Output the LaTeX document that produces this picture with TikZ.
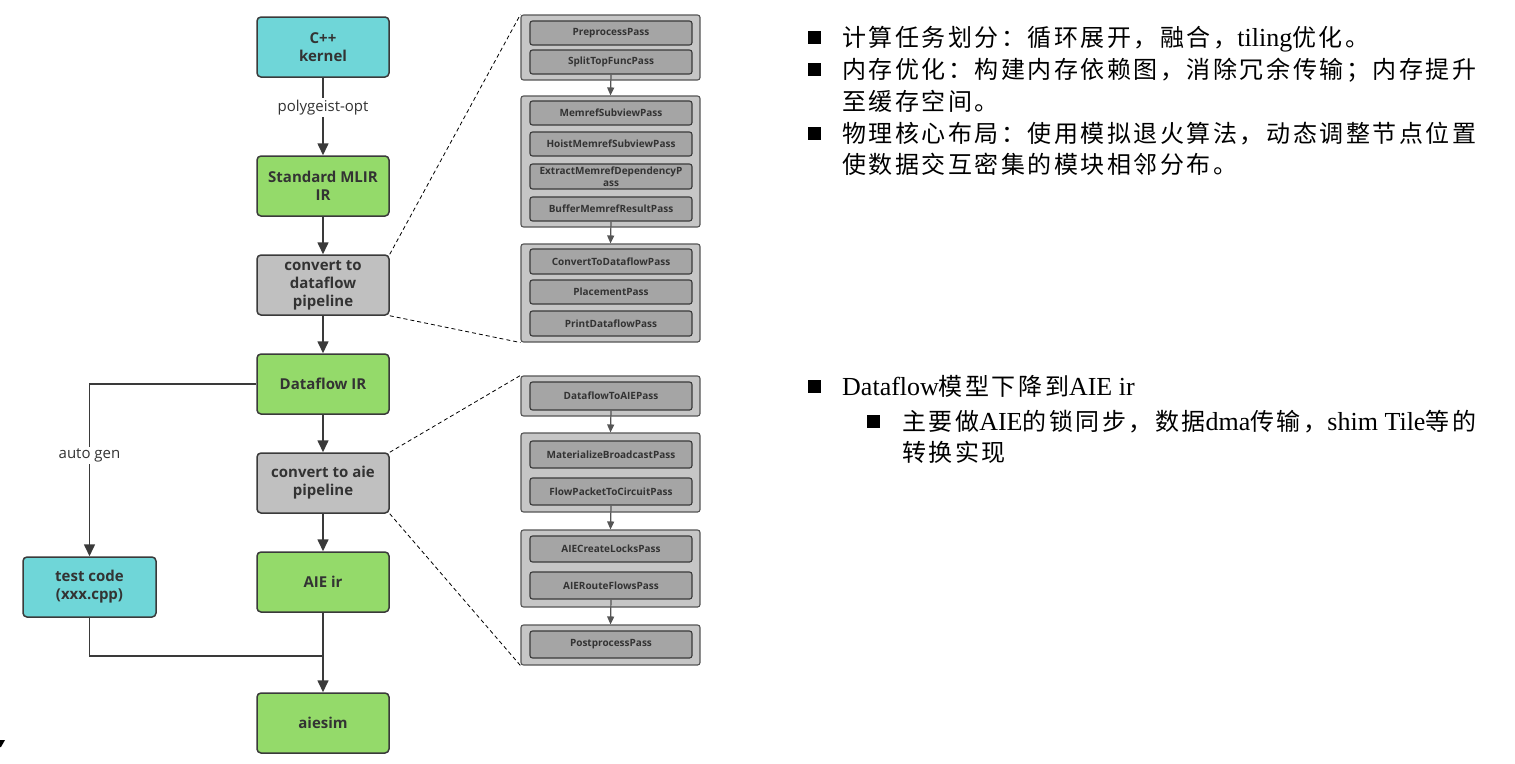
\documentclass[tikz,border=0pt]{standalone}
\usepackage{fontspec}
\setmainfont{Liberation Serif}
\newfontfamily\uisans{Open Sans}
\newfontfamily\cjk[LetterSpace=10.5]{Noto Sans CJK SC}
\usetikzlibrary{arrows.meta}

\definecolor{kcyan}{HTML}{6FD6D8}
\definecolor{kgreen}{HTML}{94DA6A}
\definecolor{kgray}{HTML}{C0C0C0}
\definecolor{kline}{HTML}{3A3A3A}
\definecolor{ktext}{HTML}{333333}
\definecolor{grpfill}{HTML}{C6C6C6}
\definecolor{grpline}{HTML}{555555}
\definecolor{passfill}{HTML}{A5A5A5}

\newcommand{\zh}[1]{{\fontsize{24}{28}\selectfont\cjk #1}}

\begin{document}
\begin{tikzpicture}[x=1pt,y=-1pt,
  flowbox/.style={draw=kline, line width=1.5pt, rounded corners=4pt,
    minimum width=132pt, minimum height=60pt, inner sep=0pt, align=center,
    text=ktext, font=\uisans\bfseries\fontsize{15}{18}\selectfont},
  cyanbox/.style={flowbox, fill=kcyan},
  greenbox/.style={flowbox, fill=kgreen},
  graybox/.style={flowbox, fill=kgray},
  flowarrow/.style={draw=kline, line width=1.6pt, -{Triangle[length=12pt,width=11pt]}},
  flowline/.style={draw=kline, line width=1.6pt},
  edgelabel/.style={fill=white, inner sep=2pt, text=ktext,
    font=\uisans\fontsize{15}{18}\selectfont},
  passgroup/.style={draw=grpline, line width=1.1pt, fill=grpfill, rounded corners=2.5pt,
    minimum width=179pt, minimum height=#1, inner sep=0pt},
  passbox/.style={draw=kline, line width=1.1pt, fill=passfill, rounded corners=2.5pt,
    minimum width=162pt, minimum height=#1, inner sep=0pt, align=center,
    text=ktext, font=\uisans\bfseries\fontsize{10}{10.5}\selectfont},
  passarrow/.style={draw=grpline, line width=1.2pt, -{Triangle[length=8pt,width=7pt]}},
  zoomline/.style={draw=black, line width=0.8pt, dash pattern=on 4pt off 3pt},
  bulletsq/.style={fill=black, minimum size=13pt, inner sep=0pt},
  bodytext/.style={anchor=base west, inner sep=0pt, font=\fontsize{26}{30}\selectfont},
]
\useasboundingbox (0,0) rectangle (1515,763);

% main flow
\node[cyanbox]  (cpp)    at (323,47)  {C++\\kernel};
\node[greenbox] (mlir)   at (323,186) {Standard MLIR\\IR};
\node[graybox]  (cdf)    at (323,285) {convert to\\dataflow\\pipeline};
\node[greenbox] (dfir)   at (323,384) {Dataflow IR};
\node[graybox]  (caie)   at (323,483) {convert to aie\\pipeline};
\node[greenbox] (aieir)  at (323,582) {AIE ir};
\node[greenbox] (aiesim) at (323,723) {aiesim};
\node[cyanbox, minimum width=133pt] (test) at (89.5,587) {test code\\(xxx.cpp)};

\draw[flowarrow] (cpp) -- node[edgelabel, pos=0.38] {polygeist-opt} (mlir);
\draw[flowarrow] (mlir) -- (cdf);
\draw[flowarrow] (cdf) -- (dfir);
\draw[flowarrow] (dfir) -- (caie);
\draw[flowarrow] (caie) -- (aieir);
\draw[flowarrow] (aieir) -- (aiesim);
\draw[flowarrow] (dfir.west) -| node[edgelabel, pos=0.708] {auto gen} (test.north);
\coordinate (join) at (323,656);
\draw[flowline] (test.south) |- (join);

% dataflow pass pipeline
\node[passgroup=65pt]  (g1) at (610.5,47.5)  {};
\node[passgroup=131pt] (g2) at (610.5,161.5) {};
\node[passgroup=98pt]  (g3) at (610.5,293)   {};
\node[passbox=24pt] (p1)  at (611,33)    {PreprocessPass};
\node[passbox=24pt] (p2)  at (611,62)    {SplitTopFuncPass};
\node[passbox=24pt] (p3)  at (611,113)   {MemrefSubviewPass};
\node[passbox=24pt] (p4)  at (611,144)   {HoistMemrefSubviewPass};
\node[passbox=25pt] (p5)  at (611,176.5) {ExtractMemrefDependencyP\\[1.5pt]ass};
\node[passbox=24pt] (p6)  at (611,209)   {BufferMemrefResultPass};
\node[passbox=25pt] (p7)  at (611,261.5) {ConvertToDataflowPass};
\node[passbox=24pt] (p8)  at (611,292)   {PlacementPass};
\node[passbox=25pt] (p9)  at (611,323.5) {PrintDataflowPass};
\draw[passarrow] (p2.south) -- (g2.north);
\draw[passarrow] (p6.south) -- (g3.north);

% aie pass pipeline
\node[passgroup=40pt] (g4) at (610.5,396)   {};
\node[passgroup=79pt] (g5) at (610.5,472.5) {};
\node[passgroup=77pt] (g6) at (610.5,568.5) {};
\node[passgroup=40pt] (g7) at (610.5,645)   {};
\node[passbox=28pt] (q1) at (611,396)   {DataflowToAIEPass};
\node[passbox=27pt] (q2) at (611,454.5) {MaterializeBroadcastPass};
\node[passbox=27pt] (q3) at (611,491.5) {FlowPacketToCircuitPass};
\node[passbox=26pt] (q4) at (611,549)   {AIECreateLocksPass};
\node[passbox=27pt] (q5) at (611,585.5) {AIERouteFlowsPass};
\node[passbox=27pt] (q6) at (611,644.5) {PostprocessPass};
\draw[passarrow] (q1.south) -- (g5.north);
\draw[passarrow] (q3.south) -- (g6.north);
\draw[passarrow] (q5.south) -- (g7.north);

% zoom guides
\draw[zoomline] (cdf.north east) -- (g1.north west);
\draw[zoomline] (cdf.south east) -- (g3.south west);
\draw[zoomline] (caie.north east) -- (g4.north west);
\draw[zoomline] (caie.south east) -- (g7.south west);

% notes
\node[bulletsq] (n1) at (814.5,37.5) {};
\node[bulletsq] (n2) at (814.5,69.5) {};
\node[bulletsq] (n3) at (814.5,133) {};
\node[bodytext] (t1) at (842,46)  {\zh{计算任务划分：循环展开，融合，}tiling\zh{优化。}};
\node[bodytext] (t2) at (842,78)  {\zh{内存优化：构建内存依赖图，消除冗余传输；内存提升}};
\node[bodytext] (t3) at (842,110) {\zh{至缓存空间。}};
\node[bodytext] (t4) at (842,142) {\zh{物理核心布局：使用模拟退火算法，动态调整节点位置}};
\node[bodytext] (t5) at (842,173) {\zh{使数据交互密集的模块相邻分布。}};

\node[bulletsq] (n4) at (814.5,386) {};
\node[bulletsq] (n5) at (873.5,421) {};
\node[bodytext] (t6) at (842,395) {Dataflow\zh{模型下降到}AIE ir};
\node[bodytext] (t7) at (902,430) {\zh{主要做}AIE\zh{的锁同步，数据}dma\zh{传输，}shim Tile\zh{等的}};
\node[bodytext] (t8) at (902,461) {\zh{转换实现}};

% clipped mark at the lower left edge
\fill[black] (0,740) -- (5,740) -- (1,747) -- (0,747) -- cycle;
\end{tikzpicture}
\end{document}
